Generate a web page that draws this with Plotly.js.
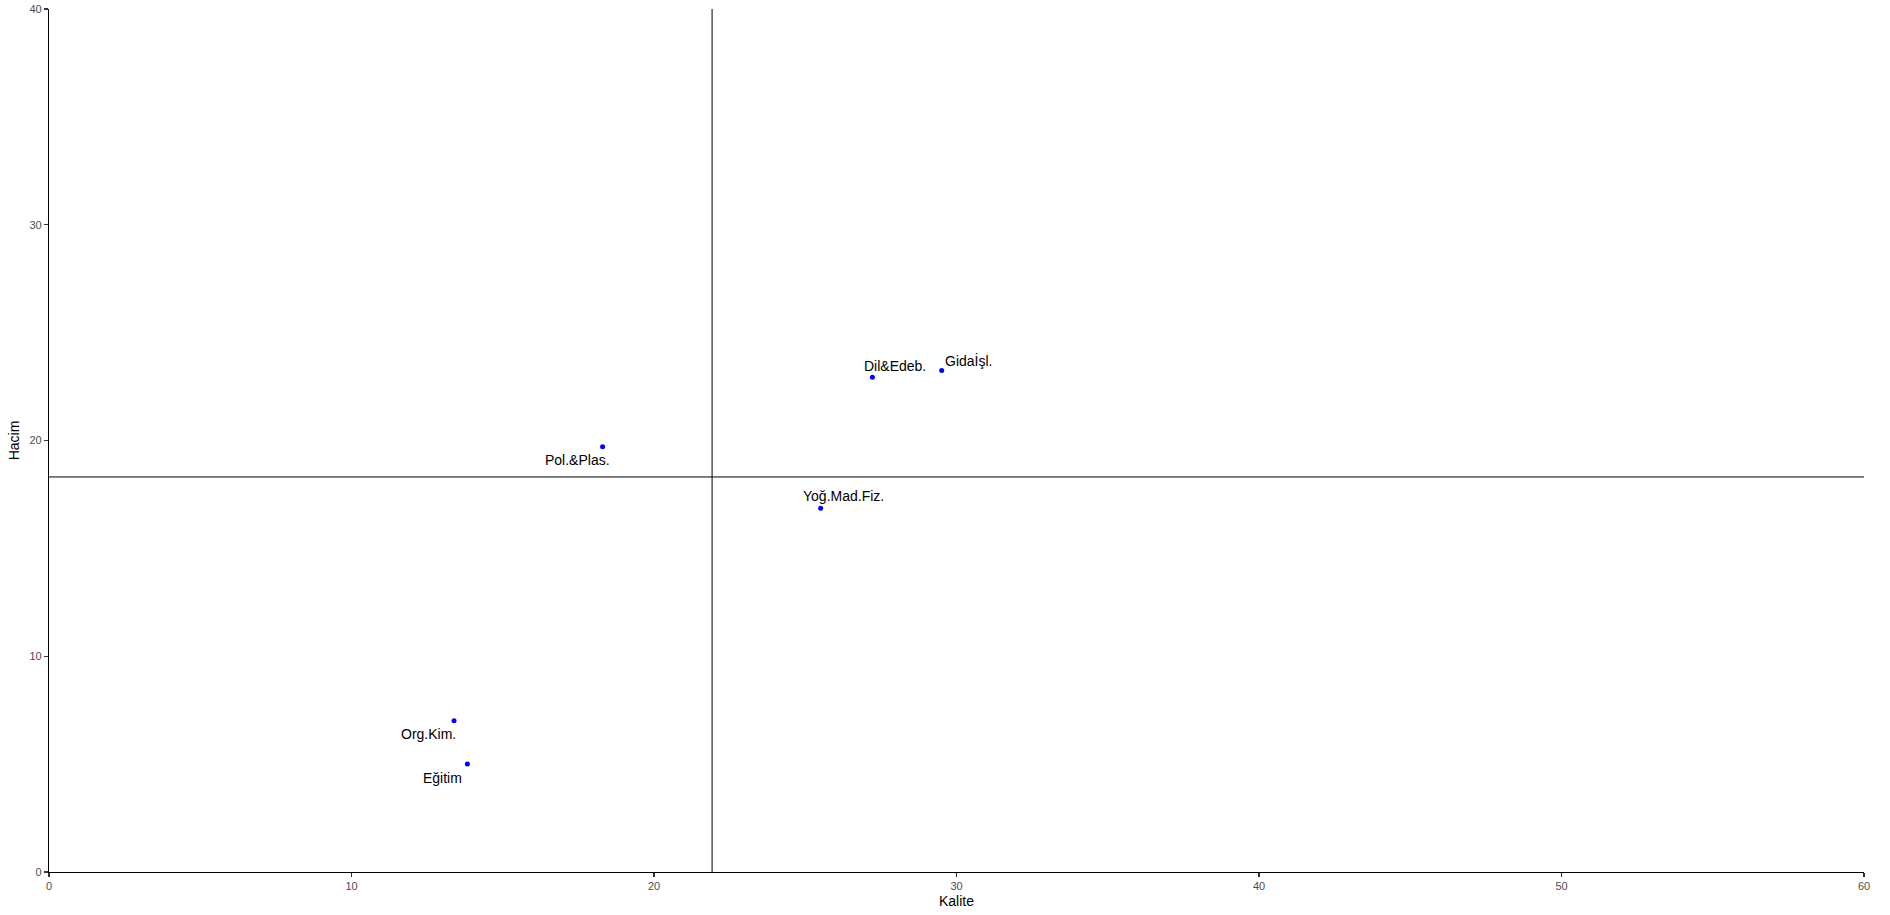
<!DOCTYPE html>
<html>
<head>
<meta charset="utf-8">
<script src="https://cdn.plot.ly/plotly-3.0.1.min.js"></script>
<style>html,body{margin:0;padding:0;background:#fff;}#chart{width:1890px;height:915px;}</style>
</head>
<body>
<div id="chart"></div>
<script>
const labels = ["Dil&Edeb.", "Gidaİşl.", "Pol.&Plas.", "Yoğ.Mad.Fiz.", "Org.Kim.", "Eğitim"];
const kalite = [27.22, 29.51, 18.30, 25.51, 13.39, 13.83];
const hacim = [22.93, 23.24, 19.71, 16.86, 7.01, 5.01];
const labelShiftX = [23, 27, -25, 23, -26, -25];
const labelShiftY = [11, 10, -13, 12, -13, -14];
const meanKalite = 21.92;
const meanHacim = 18.31;

const trace = {
  x: kalite, y: hacim, mode: "markers", type: "scatter",
  marker: {color: "#0000ff", size: 5},
  hoverinfo: "skip", showlegend: false
};

const annotations = labels.map((t, i) => ({
  x: kalite[i], y: hacim[i], xref: "x", yref: "y", text: t, showarrow: false,
  xshift: labelShiftX[i], yshift: labelShiftY[i],
  font: {family: "Liberation Sans, Arial, sans-serif", size: 14, color: "#000"}
}));

const layout = {
  width: 1890, height: 915,
  paper_bgcolor: "#fff", plot_bgcolor: "#fff",
  margin: {l: 49, r: 26, t: 9, b: 43},
  font: {family: "Liberation Sans, Arial, sans-serif"},
  xaxis: {
    range: [0, 60], tickvals: [0, 10, 20, 30, 40, 50, 60],
    showgrid: false, zeroline: false, showline: true, linecolor: "#000", linewidth: 1.1,
    ticks: "outside", ticklen: 4, tickcolor: "#333", tickwidth: 1.1,
    tickfont: {size: 11, color: "#4d4d4d"},
    title: {text: "Kalite", font: {size: 14, color: "#000"}, standoff: 4},
    automargin: false, fixedrange: true
  },
  yaxis: {
    range: [0, 40], tickvals: [0, 10, 20, 30, 40],
    showgrid: false, zeroline: false, showline: true, linecolor: "#000", linewidth: 1.1,
    ticks: "outside", ticklen: 4, tickcolor: "#333", tickwidth: 1.1,
    tickfont: {size: 11, color: "#4d4d4d"},
    title: {text: "Hacim", font: {size: 14, color: "#000"}, standoff: 6},
    automargin: false, fixedrange: true
  },
  shapes: [
    {type: "line", xref: "x", yref: "y", x0: meanKalite, x1: meanKalite, y0: 0, y1: 40, line: {color: "#000", width: 1}},
    {type: "line", xref: "x", yref: "y", x0: 0, x1: 60, y0: meanHacim, y1: meanHacim, line: {color: "#000", width: 1}}
  ],
  annotations: annotations
};

Plotly.newPlot("chart", [trace], layout, {displayModeBar: false, staticPlot: true});
</script>
</body>
</html>
